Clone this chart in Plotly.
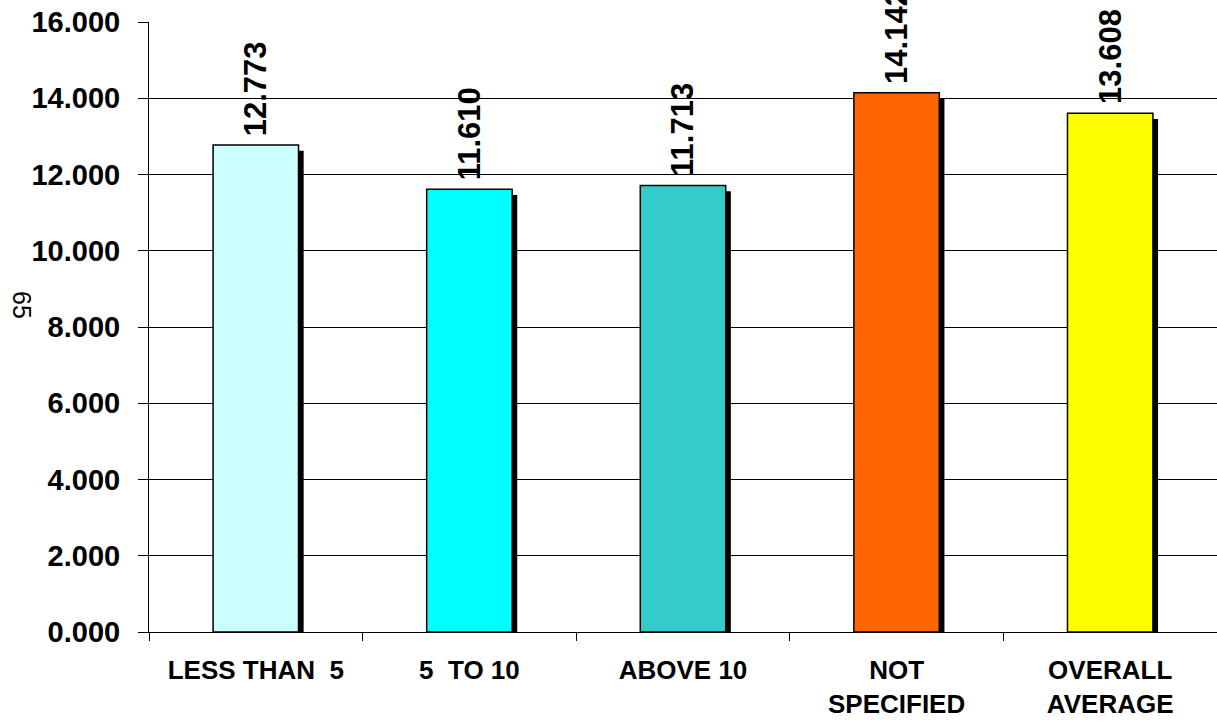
import plotly.graph_objects as go

categories = ["LESS THAN\u00a0\u00a05", "5\u00a0\u00a0TO 10", "ABOVE 10", "NOT<br>SPECIFIED", "OVERALL<br>AVERAGE"]
values = [12.773, 11.610, 11.713, 14.142, 13.608]
colors = ["#CCFFFF", "#00FFFF", "#33CCCC", "#FF6600", "#FFFF00"]
y_ticks = [0, 2, 4, 6, 8, 10, 12, 14, 16]
y_title = "65"

FONT = "Arial, 'Liberation Sans', sans-serif"
BAR_W = 0.4
SH_DX = 0.024   # shadow offset in category units
SH_DY = 0.15    # shadow drop in value units

fig = go.Figure()
# shadow
fig.add_trace(go.Bar(
    x=categories, y=[v - SH_DY for v in values],
    width=BAR_W, offset=-BAR_W / 2 + SH_DX,
    marker=dict(color="black", line=dict(width=0)),
    hoverinfo="skip", showlegend=False,
))
# bars
fig.add_trace(go.Bar(
    x=categories, y=values,
    width=BAR_W, offset=-BAR_W / 2,
    marker=dict(color=colors, line=dict(color="black", width=1.5)),
    showlegend=False,
))

for c, v in zip(categories, values):
    fig.add_annotation(
        x=c, y=v, xref="x", yref="y",
        text=f"{v:.3f}", textangle=-90,
        showarrow=False, yanchor="bottom", xanchor="center",
        yshift=7, font=dict(family=FONT, size=31, color="black", weight="bold"),
    )

fig.add_annotation(
    xref="x domain", yref="y domain",
    x=(22 - 149) / 1068, y=(632 - 305) / 610,
    xanchor="center", yanchor="middle",
    text=y_title, textangle=90, showarrow=False,
    font=dict(family=FONT, size=25, color="black"),
)

fig.update_layout(
    width=1217, height=723,
    margin=dict(l=149, r=0, t=22, b=91, autoexpand=False),
    barmode="overlay",
    plot_bgcolor="white", paper_bgcolor="white",
    font=dict(family=FONT, color="black"),
    xaxis=dict(
        showline=True, linecolor="black", linewidth=1,
        ticks="outside", tickson="boundaries", ticklen=8, tickcolor="black",
        tickfont=dict(family=FONT, size=26, color="black", weight="bold"),
        showgrid=False, ticklabelstandoff=15, automargin=False,
    ),
    yaxis=dict(
        range=[0, 16], tickvals=y_ticks, tickformat=".3f",
        showline=True, linecolor="black", linewidth=1,
        ticks="outside", ticklen=10, tickcolor="black",
        showgrid=True, gridcolor="black", gridwidth=1,
        tickfont=dict(family=FONT, size=29, color="black", weight="bold"),
        zeroline=False, ticklabelstandoff=12, automargin=False,
    ),
)
fig.write_html("out.html", config={"displayModeBar": False},
               post_script="document.body.style.margin='0';")
